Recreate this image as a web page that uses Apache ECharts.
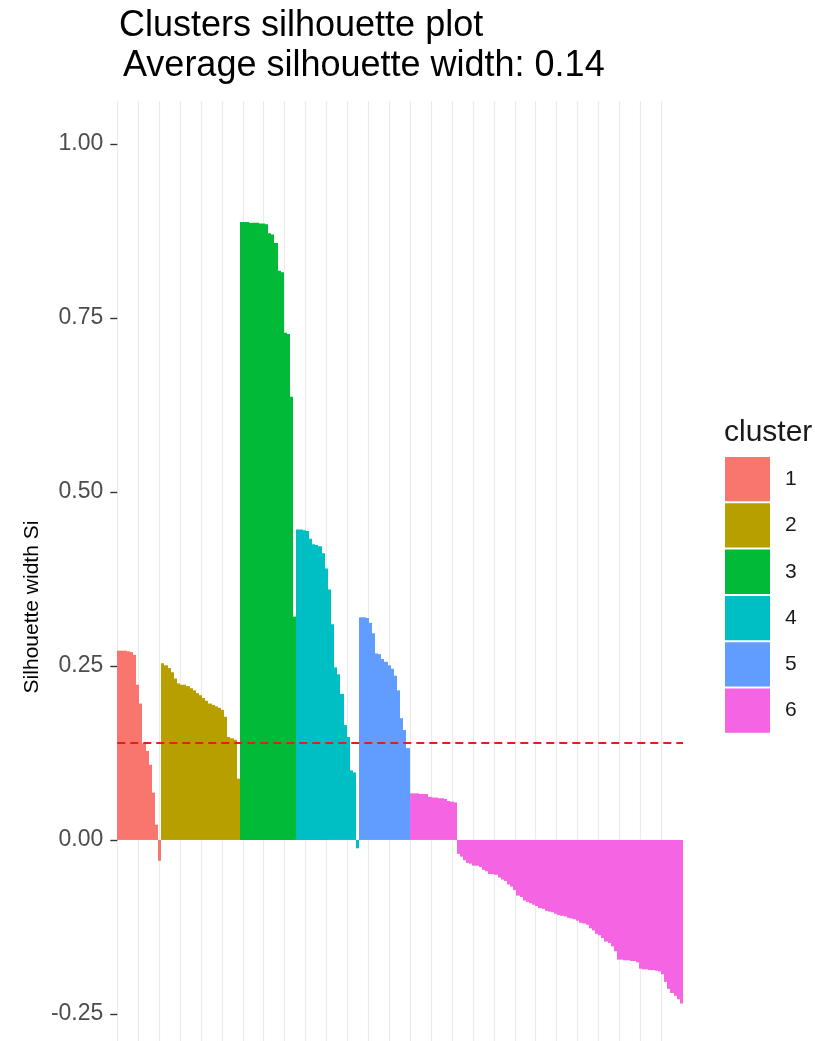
<!DOCTYPE html>
<html><head><meta charset="utf-8">
<script src="https://cdn.jsdelivr.net/npm/echarts@6/dist/echarts.min.js"></script>
<style>html,body{margin:0;padding:0;background:#fff}#c{width:815px;height:1041px}</style>
</head><body><div id="c"></div>
<script>
const clusterNames = ['1', '2', '3', '4', '5', '6'];
const clusterColors = ['#F8766D', '#B79F00', '#00BA38', '#00BFC4', '#619CFF', '#F564E3'];

const cluster1 = [0.272, 0.272, 0.272, 0.271, 0.270, 0.266, 0.223, 0.196, 0.139, 0.128, 0.108, 0.068, 0.022, -0.030];
const cluster2 = [0.254, 0.251, 0.247, 0.241, 0.232, 0.225, 0.223, 0.223, 0.221, 0.218, 0.215, 0.211, 0.208,
                  0.204, 0.200, 0.196, 0.194, 0.192, 0.190, 0.187, 0.177, 0.148, 0.146, 0.144, 0.088];
const cluster3 = [0.888, 0.888, 0.888, 0.887, 0.887, 0.887, 0.886, 0.886, 0.885, 0.872, 0.870, 0.858,
                  0.818, 0.816, 0.729, 0.727, 0.637, 0.321];
const cluster4 = [0.446, 0.446, 0.445, 0.444, 0.433, 0.425, 0.424, 0.422, 0.412, 0.390, 0.360, 0.310,
                  0.248, 0.238, 0.210, 0.165, 0.148, 0.100, 0.097, -0.012];
const cluster5 = [0.320, 0.320, 0.319, 0.312, 0.297, 0.268, 0.267, 0.260, 0.256, 0.251, 0.246, 0.236,
                  0.215, 0.175, 0.158, 0.132];
const cluster6 = [0.067, 0.067, 0.067, 0.066, 0.066, 0.066, 0.062, 0.061, 0.061, 0.060, 0.060, 0.059,
                  0.056, 0.055, 0.054,
                  -0.020, -0.024, -0.029, -0.033, -0.034, -0.037, -0.037, -0.039, -0.043, -0.045,
                  -0.049, -0.049, -0.050, -0.054, -0.057, -0.059, -0.064, -0.067, -0.072, -0.080,
                  -0.082, -0.087, -0.089, -0.091, -0.093, -0.095, -0.098, -0.099, -0.102, -0.103,
                  -0.104, -0.106, -0.108, -0.109, -0.110, -0.112, -0.113, -0.114, -0.116, -0.119,
                  -0.120, -0.122, -0.127, -0.130, -0.135, -0.137, -0.141, -0.146, -0.148, -0.153,
                  -0.160, -0.172, -0.172, -0.173, -0.173, -0.174, -0.174, -0.176, -0.185, -0.186,
                  -0.186, -0.187, -0.187, -0.188, -0.189, -0.193, -0.204, -0.214, -0.220, -0.224,
                  -0.229, -0.235];

const yTicks = [-0.25, 0, 0.25, 0.5, 0.75, 1];
const avgWidth = 0.138;
const titleLine1 = 'Clusters silhouette plot';
const titleLine2 = 'Average silhouette width: 0.14';
const yAxisTitle = 'Silhouette width Si';
const legendTitle = 'cluster';

const clusters = [cluster1, cluster2, cluster3, cluster4, cluster5, cluster6];
const total = clusters.reduce((s, c) => s + c.length, 0);
const categories = [];
for (let i = 0; i < total; i++) categories.push(String(i + 1));

// bar drawn through the axes' scales; edges snapped to whole pixels so adjacent bars meet without seams
function renderBar(params, api) {
  const idx = api.value(0);
  const v = api.value(1);
  const top = api.coord([idx, v]);
  const base = api.coord([idx, 0]);
  const bw = api.size([1, 0])[0];
  const x0 = Math.round(top[0] - bw / 2);
  const x1 = Math.round(top[0] + bw / 2);
  const y0 = Math.min(top[1], base[1]);
  const h = Math.abs(top[1] - base[1]);
  return {
    type: 'rect',
    shape: { x: x0, y: y0, width: x1 - x0, height: h },
    style: { fill: api.visual('color') }
  };
}

let offset = 0;
const series = clusters.map((vals, k) => {
  const data = vals.map((v, j) => [offset + j, v]);
  offset += vals.length;
  const s = {
    name: clusterNames[k],
    type: 'custom',
    renderItem: renderBar,
    data: data,
    encode: { x: 0, y: 1 },
    itemStyle: { color: clusterColors[k] },
    silent: true,
    animation: false
  };
  if (k === clusters.length - 1) {
    s.markLine = {
      silent: true, symbol: 'none', animation: false,
      label: { show: false },
      lineStyle: { color: '#E0201B', width: 2, type: [8, 5] },
      data: [{ yAxis: avgWidth }]
    };
  }
  return s;
});

const FONT = 'Liberation Sans, Arial, sans-serif';

const chart = echarts.init(document.getElementById('c'), null, { renderer: 'canvas' });
chart.setOption({
  animation: false,
  backgroundColor: '#ffffff',
  title: [
    { text: titleLine1, left: 114, top: 3,
      textStyle: { fontFamily: FONT, fontSize: 36, fontWeight: 'normal', color: '#000' } },
    { text: titleLine2, left: 118, top: 43,
      textStyle: { fontFamily: FONT, fontSize: 36, fontWeight: 'normal', color: '#000' } },
    { text: legendTitle, left: 719, top: 413,
      textStyle: { fontFamily: FONT, fontSize: 30, fontWeight: 'normal', color: '#1a1a1a' } }
  ],
  legend: {
    data: clusterNames, orient: 'vertical', left: 725, top: 457,
    itemWidth: 45, itemHeight: 44.3, itemGap: 2, icon: 'rect',
    selectedMode: false, padding: 0,
    textStyle: { fontFamily: FONT, fontSize: 21, color: '#1a1a1a', padding: [0, 0, 0, 10] }
  },
  graphic: [
    { type: 'text', x: 32, y: 607, rotation: Math.PI / 2, silent: true,
      style: { text: yAxisTitle, fontFamily: FONT, fontSize: 21, fill: '#000',
               align: 'center', verticalAlign: 'middle' } }
  ],
  grid: [
    { left: 117.3, top: 101, width: 565.7, height: 945.6, outerBoundsMode: 'none', containLabel: false },
    { left: 117.3, top: 101, width: 26 * 20.92, height: 945.6, outerBoundsMode: 'none', containLabel: false }
  ],
  xAxis: [
    { type: 'category', gridIndex: 0, data: categories, show: false, boundaryGap: true },
    { type: 'value', gridIndex: 1, min: 0, max: 26, interval: 1,
      axisLine: { show: false }, axisTick: { show: false }, axisLabel: { show: false },
      splitLine: { show: true, lineStyle: { color: '#EBEBEB', width: 1.2 } } }
  ],
  yAxis: [
    { type: 'value', gridIndex: 0, min: -0.297, max: 1.062,
      axisLine: { show: false },
      axisTick: { show: true, customValues: yTicks, length: 7, lineStyle: { color: '#333', width: 1.4 } },
      axisLabel: { show: true, customValues: yTicks, margin: 14, fontFamily: FONT, fontSize: 23, color: '#4D4D4D',
        formatter: v => v.toFixed(2) },
      splitLine: { show: false } },
    { type: 'value', gridIndex: 1, min: 0, max: 1, show: false }
  ],
  series: series
});
</script>
</body></html>
